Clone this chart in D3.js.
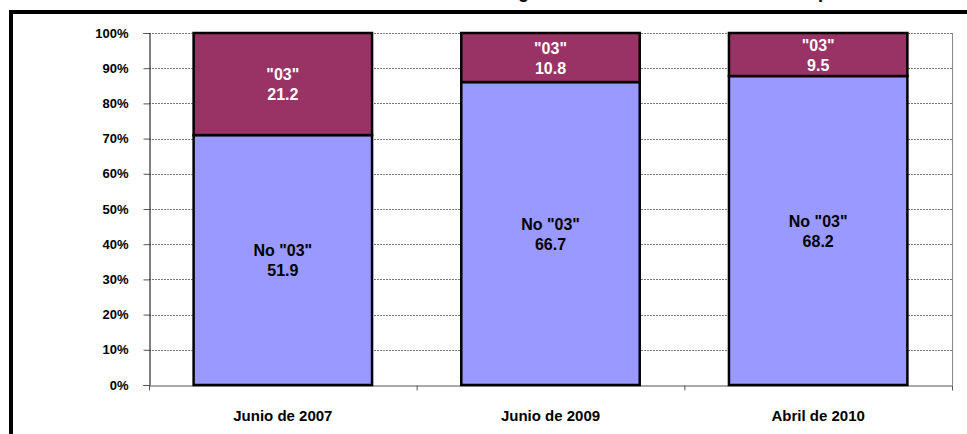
<!DOCTYPE html>
<html>
<head>
<meta charset="utf-8">
<script src="https://cdn.jsdelivr.net/npm/d3@7"></script>
<style>
  body { margin: 0; background: #fff; }
  svg text { font-family: Arial, "Liberation Sans", sans-serif; font-weight: bold; }
</style>
</head>
<body>
<script>
// data
var categories = ["Junio de 2007", "Junio de 2009", "Abril de 2010"];
var seriesNames = ["No \"03\"", "\"03\""];
var no03Values = [51.9, 66.7, 68.2];
var o3Values = [21.2, 10.8, 9.5];
var yTicks = [0, 0.1, 0.2, 0.3, 0.4, 0.5, 0.6, 0.7, 0.8, 0.9, 1];

var w = 967, h = 434;
var svg = d3.select("body").append("svg")
    .attr("width", w)
    .attr("height", h);

// title (mostly cut off above the frame, only descenders show)
var title = svg.append("text")
    .attr("x", 300)
    .attr("y", -2)
    .style("font-size", "18px")
    .text("Distribución del ingreso total de los asalariados del tipo");
// shift so the "g" lands where it sits in the original
var gIdx = title.text().indexOf("g");
var gPos = title.node().getStartPositionOfChar(gIdx).x;
title.attr("x", 300 + (518 - gPos));

// outer frame, runs past the window on the right and bottom
svg.append("rect")
    .attr("x", 11)
    .attr("y", 12)
    .attr("width", 1000)
    .attr("height", 500)
    .attr("fill", "none")
    .attr("stroke", "#000")
    .attr("stroke-width", 4);

// plot area bounds
var pLeft = 149, pRight = 952, pTop = 33, pBottom = 385;

var x = d3.scaleBand()
    .domain(categories)
    .range([pLeft, pRight])
    .paddingInner(1 / 3)
    .paddingOuter(1 / 6);

var y = d3.scaleLinear()
    .domain([0, 1])
    .range([pBottom, pTop]);

// table for the stack
var table = categories.map(function(c, i) {
    return { cat: c, no03: no03Values[i], o3: o3Values[i] };
});
var stack = d3.stack()
    .keys(["no03", "o3"])
    .offset(d3.stackOffsetExpand);
var layers = stack(table);
var colors = ["#9999FF", "#993366"];
var textColors = ["#000", "#fff"];

// gridlines
svg.append("g")
    .selectAll("line")
    .data(yTicks.slice(1))
    .enter().append("line")
    .attr("x1", pLeft)
    .attr("x2", pRight)
    .attr("y1", function(d) { return Math.round(y(d)) + 0.5; })
    .attr("y2", function(d) { return Math.round(y(d)) + 0.5; })
    .attr("stroke", "#777")
    .attr("stroke-dasharray", "2,1");

// right edge of plot area
svg.append("line")
    .attr("x1", pRight + 0.5).attr("x2", pRight + 0.5)
    .attr("y1", pTop).attr("y2", pBottom)
    .attr("stroke", "#888");

// y axis
var yAxis = d3.axisLeft(y)
    .tickValues(yTicks)
    .tickFormat(d3.format(".0%"))
    .tickSize(6)
    .tickPadding(15);
var yg = svg.append("g")
    .attr("transform", "translate(" + (pLeft + 0.5) + ",0)")
    .call(yAxis);
yg.select(".domain").attr("stroke", "#000");
yg.selectAll(".tick line").attr("stroke", "#555");
yg.selectAll(".tick text")
    .style("font-size", "13px")
    .attr("fill", "#000");

// x axis
var xAxis = d3.axisBottom(x).tickSize(0).tickPadding(25);
var xg = svg.append("g")
    .attr("transform", "translate(0," + (pBottom + 0.5) + ")")
    .call(xAxis);
xg.select(".domain").attr("stroke", "#555");
xg.selectAll(".tick text")
    .style("font-size", "15px")
    .attr("fill", "#000");

// tick marks between categories
var step = x.step();
xg.selectAll(".sep")
    .data(d3.range(categories.length + 1))
    .enter().append("line")
    .attr("class", "sep")
    .attr("x1", function(i) { return pLeft + i * step + 0.5; })
    .attr("x2", function(i) { return pLeft + i * step + 0.5; })
    .attr("y1", 0)
    .attr("y2", 5)
    .attr("stroke", "#555");

// bars
layers.forEach(function(layer, k) {
    svg.append("g").selectAll("rect")
        .data(layer)
        .enter().append("rect")
        .attr("x", function(d) { return x(d.data.cat); })
        .attr("y", function(d) { return y(d[1]); })
        .attr("width", x.bandwidth())
        .attr("height", function(d) { return y(d[0]) - y(d[1]); })
        .attr("fill", colors[k])
        .attr("stroke", "#000")
        .attr("stroke-width", 2.5);
});

// labels, two lines each
layers.forEach(function(layer, k) {
    var values = k === 0 ? no03Values : o3Values;
    var lab = svg.append("g").selectAll("text")
        .data(layer)
        .enter().append("text")
        .attr("text-anchor", "middle")
        .attr("fill", textColors[k])
        .style("font-size", "16px")
        .attr("y", function(d) { return (y(d[0]) + y(d[1])) / 2 - 4; });
    lab.append("tspan")
        .attr("x", function(d) { return x(d.data.cat) + x.bandwidth() / 2; })
        .text(seriesNames[k]);
    lab.append("tspan")
        .attr("x", function(d) { return x(d.data.cat) + x.bandwidth() / 2; })
        .attr("dy", 20)
        .text(function(d, i) { return d3.format(".1f")(values[i]); });
});
</script>
</body>
</html>
